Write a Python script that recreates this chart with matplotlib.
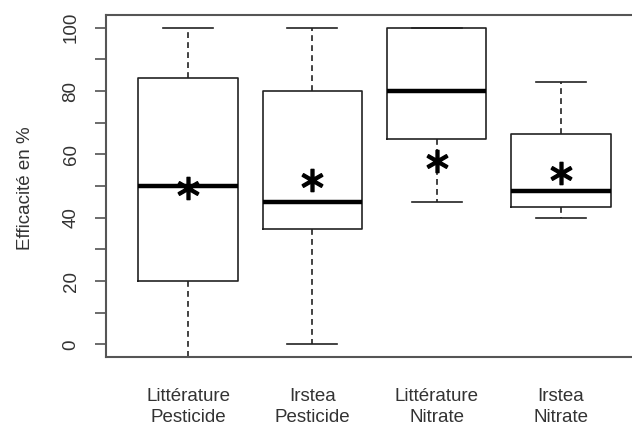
import matplotlib
matplotlib.use('Agg')
import matplotlib.pyplot as plt

# groups and box statistics
labels = ["Littérature\nPesticide", "Irstea\nPesticide", "Littérature\nNitrate", "Irstea\nNitrate"]
whis_low = [-10, 0, 45, 40]
q1 = [20, 36.5, 65, 43.3]
med = [50, 45, 80, 48.5]
q3 = [84, 80, 100, 66.5]
whis_high = [100, 100, 100, 83]
means = [49.5, 52, 58, 54]

plt.rcParams['font.family'] = ['Liberation Sans', 'DejaVu Sans']
TXT = '#333333'

stats = []
for i in range(len(labels)):
    stats.append({'whislo': whis_low[i], 'q1': q1[i], 'med': med[i],
                  'q3': q3[i], 'whishi': whis_high[i], 'fliers': []})

fig = plt.figure(figsize=(6.32, 4.28), dpi=100)
ax = fig.add_axes([106/632, 1 - 357/428, (643 - 106)/632, (357 - 15)/428])

pos = [1, 2, 3, 4]
ax.bxp(stats, positions=pos, widths=0.8, capwidths=0.4, showfliers=False,
       boxprops=dict(color='#222222', linewidth=1.2),
       medianprops=dict(color='black', linewidth=3.2, solid_capstyle='butt'),
       whiskerprops=dict(color='#222222', linewidth=1.2, linestyle=(0, (3.5, 2.5))),
       capprops=dict(color='#222222', linewidth=1.2))
ax.plot(pos, means, linestyle='none', marker='$\\ast$', markersize=16,
        color='black', markeredgewidth=1.0)

ax.set_xlim(0.34, 4.66)
ax.set_ylim(-4, 104)
ax.set_xticks(pos)
ax.set_xticklabels(labels, fontsize=13.5, color=TXT, linespacing=1.35)
ax.tick_params(axis='x', length=0, pad=22)

ax.set_yticks(range(0, 101, 20))
ax.set_yticks(range(10, 100, 20), minor=True)
ax.set_yticklabels([str(v) for v in range(0, 101, 20)], rotation=90,
                   va='center', fontsize=13.5, color=TXT)
ax.tick_params(axis='y', which='both', direction='out', length=8, width=1.1,
               color='#444444', pad=11)

for s in ax.spines.values():
    s.set_color('#555555')
    s.set_linewidth(1.5)

fig.text(26/632, 1 - 188/428, "Efficacité en %", rotation=90, ha='center',
         va='center', fontsize=13.5, color=TXT)

fig.savefig('out.png', dpi=100)
